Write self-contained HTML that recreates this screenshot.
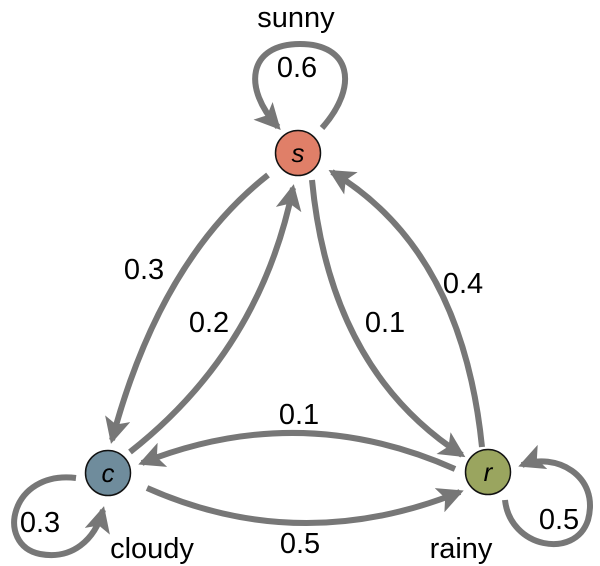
<!DOCTYPE html>
<html><head><meta charset="utf-8"><style>
body{margin:0;background:#fff}
svg{display:block}
text{font-family:"Liberation Sans",sans-serif;fill:#000}
</style></head><body>
<svg width="600" height="566" viewBox="0 0 600 566" xmlns="http://www.w3.org/2000/svg">
<defs>
<marker id="a" markerUnits="userSpaceOnUse" markerWidth="28" markerHeight="26" refX="22" refY="13" orient="auto">
<path d="M0,0 L26,13 L0,26 L6,13 Z" fill="#777"/>
</marker>
</defs>
<g fill="none" stroke="#777" stroke-width="6" marker-end="url(#a)">
<path d="M268,175 Q160,260 112,440"/>
<path d="M130,452 Q260,350 293,188"/>
<path d="M312,180 Q330,370 462,455"/>
<path d="M482,447 Q462,250 332,172"/>
<path d="M455,469 Q300,400 142,463"/>
<path d="M147,488 Q300,556 460,492"/>
<path d="M322,128 C360,85 350,44 300,44 C248,44 242,88 278,127"/>
<path d="M76,478 C10,470 -5,545 40,554 C72,560 95,540 103,510"/>
<path d="M505,500 C510,548 575,560 588,520 C600,475 555,452 522,465"/>
</g>
<circle cx="298" cy="153" r="22.5" fill="#e07f68" stroke="#111" stroke-width="1.5"/>
<circle cx="108" cy="473" r="22.5" fill="#6f8c9c" stroke="#111" stroke-width="1.5"/>
<circle cx="488" cy="472" r="22.5" fill="#9aa55f" stroke="#111" stroke-width="1.5"/>
<g font-size="26" font-style="italic" text-anchor="middle">
<text x="298" y="162">s</text>
<text x="108" y="482">c</text>
<text x="488" y="481">r</text>
</g>
<g font-size="29" text-anchor="middle">
<text x="296" y="27">sunny</text>
<text x="297" y="77">0.6</text>
<text x="144" y="279">0.3</text>
<text x="209" y="332">0.2</text>
<text x="385" y="332">0.1</text>
<text x="463" y="293">0.4</text>
<text x="299" y="424">0.1</text>
<text x="300" y="553">0.5</text>
<text x="40" y="532">0.3</text>
<text x="152" y="558">cloudy</text>
<text x="461" y="558">rainy</text>
<text x="559" y="529">0.5</text>
</g>
</svg>
</body></html>
